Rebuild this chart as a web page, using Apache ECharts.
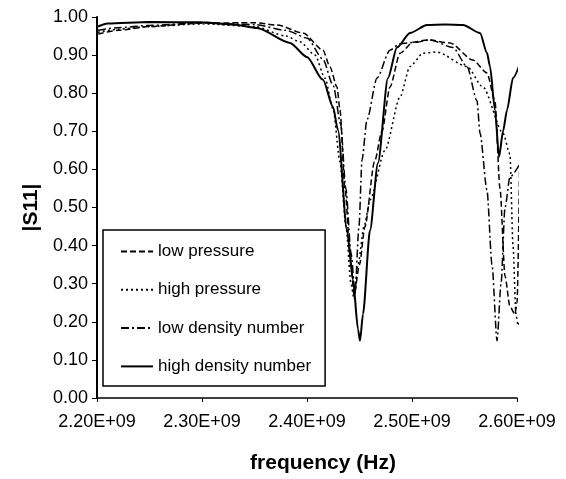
<!DOCTYPE html>
<html>
<head>
<meta charset="utf-8">
<script src="https://cdn.jsdelivr.net/npm/echarts@6/dist/echarts.min.js"></script>
<style>
  html, body { margin: 0; padding: 0; background: #fff; }
  #chart { width: 566px; height: 479px; }
</style>
</head>
<body>
<div id="chart"></div>
<script>
// frequency in units of 1E+09 Hz, |S11| values
var lowPressureFreq = [2.201, 2.22, 2.25, 2.30, 2.35, 2.3714, 2.3962, 2.4152, 2.4219, 2.4286, 2.4314, 2.4362, 2.441, 2.4448, 2.45, 2.4552, 2.4643, 2.4714, 2.479, 2.4886, 2.501, 2.5152, 2.5362, 2.558, 2.5714, 2.579, 2.5838, 2.5886, 2.5933, 2.598, 2.6, 2.6029]
var lowPressureS11 = [0.955, 0.965, 0.975, 0.984, 0.985, 0.979, 0.958, 0.913, 0.869, 0.816, 0.756, 0.55, 0.38, 0.27, 0.35, 0.45, 0.62, 0.70, 0.816, 0.905, 0.934, 0.94, 0.932, 0.887, 0.853, 0.78, 0.55, 0.32, 0.24, 0.22, 0.25, 0.68]

var highPressureFreq = [2.201, 2.22, 2.25, 2.30, 2.35, 2.38, 2.3933, 2.4076, 2.4171, 2.4248, 2.4314, 2.4371, 2.4419, 2.4448, 2.4486, 2.4543, 2.46, 2.4743, 2.4886, 2.4981, 2.5105, 2.5238, 2.5524, 2.5676, 2.5867, 2.5933, 2.5962, 2.599, 2.601, 2.6038]
var highPressureS11 = [0.96, 0.968, 0.975, 0.982, 0.975, 0.95, 0.935, 0.9, 0.84, 0.76, 0.62, 0.45, 0.3, 0.26, 0.35, 0.45, 0.52, 0.65, 0.79, 0.87, 0.905, 0.908, 0.87, 0.816, 0.695, 0.64, 0.4, 0.22, 0.19, 0.21]

var lowDensityFreq = [2.201, 2.22, 2.25, 2.30, 2.35, 2.38, 2.40, 2.415, 2.425, 2.432, 2.437, 2.442, 2.4457, 2.4495, 2.4524, 2.4571, 2.4667, 2.479, 2.4886, 2.5048, 2.5171, 2.539, 2.5524, 2.5619, 2.5648, 2.5714, 2.5762, 2.581, 2.5848, 2.5886, 2.5933, 2.6038]
var lowDensityS11 = [0.965, 0.972, 0.978, 0.985, 0.98, 0.965, 0.945, 0.89, 0.82, 0.72, 0.55, 0.38, 0.275, 0.45, 0.625, 0.73, 0.84, 0.913, 0.93, 0.934, 0.94, 0.92, 0.87, 0.78, 0.695, 0.546, 0.35, 0.15, 0.3, 0.5, 0.58, 0.62]

var highDensityFreq = [2.201, 2.21, 2.25, 2.30, 2.33, 2.3524, 2.3838, 2.40, 2.4152, 2.4248, 2.4295, 2.4381, 2.4438, 2.4486, 2.4505, 2.4533, 2.46, 2.4676, 2.4771, 2.4857, 2.4981, 2.5143, 2.5314, 2.5486, 2.5648, 2.5714, 2.5743, 2.579, 2.5829, 2.5867, 2.5905, 2.5962, 2.6057]
var highDensityS11 = [0.975, 0.983, 0.987, 0.986, 0.98, 0.971, 0.932, 0.895, 0.835, 0.764, 0.703, 0.44, 0.31, 0.18, 0.15, 0.22, 0.44, 0.617, 0.84, 0.92, 0.958, 0.979, 0.98, 0.979, 0.958, 0.906, 0.87, 0.756, 0.633, 0.70, 0.756, 0.84, 0.903]

var seriesNames = ['low pressure', 'high pressure', 'low density number', 'high density number']

function pairs(xs, ys) {
  return xs.map(function (x, i) { return [x, ys[i]] })
}

var font = "'Liberation Sans', Arial, sans-serif"
var chart = echarts.init(document.getElementById('chart'), null, {renderer: 'canvas'})

function line(name, data, type, width) {
  return {
    name: name,
    type: 'line',
    data: data,
    symbol: 'none',
    clip: false,
    smooth: 0.25,
    smoothMonotone: 'x',
    lineStyle: {color: '#000', width: width, type: type},
    itemStyle: {color: '#000'}
  }
}

chart.setOption({
  animation: false,
  backgroundColor: '#fff',
  grid: {left: 97, right: 49, top: 17, bottom: 81, outerBoundsMode: 'none'},
  legend: {
    orient: 'vertical',
    left: 103,
    top: 230,
    data: seriesNames,
    itemWidth: 32,
    itemHeight: 14,
    itemGap: 21.3,
    padding: [13, 14, 11, 17],
    backgroundColor: '#fff',
    borderColor: '#000',
    borderWidth: 1.5,
    itemStyle: {opacity: 0},
    textStyle: {fontFamily: font, fontSize: 17, color: '#000'}
  },
  xAxis: {
    type: 'value',
    min: 2.2,
    max: 2.6,
    interval: 0.1,
    name: 'frequency (Hz)',
    nameLocation: 'middle',
    nameGap: 55,
    nameTextStyle: {fontFamily: font, fontSize: 21, fontWeight: 'bold', color: '#000', padding: [0, 0, 0, 32]},
    axisLine: {lineStyle: {color: '#000', width: 1.5}},
    axisTick: {length: 4, lineStyle: {color: '#000'}},
    splitLine: {show: false},
    axisLabel: {
      margin: 15,
      fontFamily: font,
      fontSize: 18,
      color: '#000',
      formatter: function (v) { return v.toFixed(2) + 'E+09' }
    }
  },
  yAxis: {
    type: 'value',
    min: 0,
    max: 1,
    interval: 0.1,
    name: '|S11|',
    nameLocation: 'middle',
    nameRotate: 90,
    nameGap: 52,
    nameTextStyle: {fontFamily: font, fontSize: 21, fontWeight: 'bold', color: '#000'},
    axisLine: {show: true, lineStyle: {color: '#000', width: 2}},
    axisTick: {show: true, length: 5, lineStyle: {color: '#000'}},
    splitLine: {show: false},
    axisLabel: {
      margin: 9,
      fontFamily: font,
      fontSize: 18,
      color: '#000',
      formatter: function (v) { return v.toFixed(2) }
    }
  },
  series: [
    line(seriesNames[0], pairs(lowPressureFreq, lowPressureS11), [6, 3], 1.5),
    line(seriesNames[1], pairs(highPressureFreq, highPressureS11), [2, 3], 1.5),
    line(seriesNames[2], pairs(lowDensityFreq, lowDensityS11), [8, 3, 2, 3], 1.5),
    line(seriesNames[3], pairs(highDensityFreq, highDensityS11), 'solid', 2)
  ]
})
</script>
</body>
</html>
